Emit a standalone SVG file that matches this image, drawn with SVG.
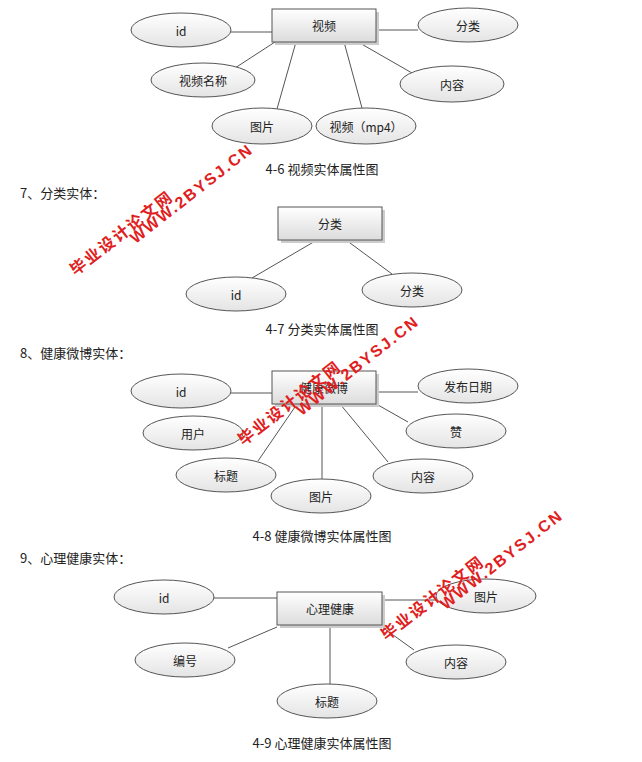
<svg xmlns="http://www.w3.org/2000/svg" width="642" height="762" viewBox="0 0 642 762">
<defs>
<linearGradient id="eg" x1="0" y1="0" x2="0" y2="1"><stop offset="0" stop-color="#ffffff"/><stop offset="1" stop-color="#e4e4e4"/></linearGradient>
<linearGradient id="rg" x1="0" y1="0" x2="0" y2="1"><stop offset="0" stop-color="#ffffff"/><stop offset="1" stop-color="#dcdcdc"/></linearGradient>
</defs>
<style>
ellipse{fill:url(#eg);stroke:#555;stroke-width:1}
rect{fill:url(#rg);stroke:#555;stroke-width:1}
.sh{fill:#ccc;stroke:none}
text{font-family:"Noto Sans CJK SC","Liberation Sans",sans-serif;font-size:12px;fill:#222;text-anchor:middle;dominant-baseline:central}
.t{text-anchor:start;font-size:13px}
.c{font-size:13px}
#connectors line{stroke:#555;stroke-width:1}
.wm{fill:#e02020;font-weight:bold;font-size:16px;text-anchor:start;font-family:"Liberation Sans","Noto Sans CJK SC",sans-serif;letter-spacing:2px}
</style>
<rect x="0" y="0" width="642" height="762" style="fill:#fff;stroke:none"/>
<g id="connectors">
<line x1="231" y1="32" x2="272" y2="32"/><line x1="376" y1="30" x2="418" y2="30"/>
<line x1="275" y1="42" x2="235" y2="68"/><line x1="296" y1="42" x2="277" y2="109"/>
<line x1="344" y1="42" x2="362" y2="108"/><line x1="358" y1="42" x2="412" y2="73"/>
<line x1="317" y1="240" x2="252" y2="278"/><line x1="346" y1="240" x2="392" y2="274"/>
<line x1="231" y1="393" x2="272" y2="393"/><line x1="376" y1="392" x2="418" y2="392"/>
<line x1="378" y1="405" x2="408" y2="422"/><line x1="297" y1="404" x2="258" y2="461"/>
<line x1="322" y1="404" x2="322" y2="479"/><line x1="340" y1="404" x2="388" y2="462"/>
<line x1="214" y1="598" x2="277" y2="598"/><line x1="382" y1="600" x2="436" y2="600"/>
<line x1="277" y1="627" x2="228" y2="648"/><line x1="382" y1="627" x2="414" y2="650"/>
<line x1="330" y1="625" x2="330" y2="684"/>
</g>
<g id="video"><rect x="275" y="12" width="104" height="33" class="sh"/><rect x="272" y="9" width="104" height="33"/><text x="324" y="25">视频</text></g>
<g id="v_id"><ellipse cx="181" cy="30" rx="50" ry="17"/><text x="181" y="30">id</text></g>
<g id="v_cat"><ellipse cx="468" cy="25" rx="50" ry="17"/><text x="468" y="25">分类</text></g>
<g id="v_name"><ellipse cx="203" cy="80" rx="52" ry="17"/><text x="203" y="80">视频名称</text></g>
<g id="v_content"><ellipse cx="452" cy="84" rx="52" ry="18"/><text x="452" y="84">内容</text></g>
<g id="v_pic"><ellipse cx="262" cy="126" rx="50" ry="18"/><text x="262" y="126">图片</text></g>
<g id="v_mp4"><ellipse cx="366" cy="126" rx="50" ry="18"/><text x="366" y="126">视频（mp4）</text></g>
<text class="c" x="322" y="168">4-6 视频实体属性图</text>
<text class="t" x="20" y="192">7、分类实体：</text>
<g id="cat"><rect x="281" y="210" width="104" height="33" class="sh"/><rect x="278" y="207" width="104" height="33"/><text x="330" y="223">分类</text></g>
<g id="c_id"><ellipse cx="236" cy="294" rx="50" ry="17"/><text x="236" y="294">id</text></g>
<g id="c_cat"><ellipse cx="412" cy="290" rx="50" ry="17"/><text x="412" y="290">分类</text></g>
<text class="c" x="322" y="328">4-7 分类实体属性图</text>
<text class="t" x="20" y="352">8、健康微博实体：</text>
<g id="weibo"><rect x="275" y="374" width="104" height="33" class="sh"/><rect x="272" y="371" width="104" height="33"/><text x="324" y="387">健康微博</text></g>
<g id="w_id"><ellipse cx="181" cy="391" rx="50" ry="17"/><text x="181" y="391">id</text></g>
<g id="w_date"><ellipse cx="468" cy="386" rx="50" ry="17"/><text x="468" y="386">发布日期</text></g>
<g id="w_user"><ellipse cx="193" cy="433" rx="50" ry="17"/><text x="193" y="433">用户</text></g>
<g id="w_like"><ellipse cx="456" cy="431" rx="50" ry="17"/><text x="456" y="431">赞</text></g>
<g id="w_title"><ellipse cx="226" cy="475" rx="50" ry="17"/><text x="226" y="475">标题</text></g>
<g id="w_pic"><ellipse cx="321" cy="496" rx="50" ry="17"/><text x="321" y="496">图片</text></g>
<g id="w_content"><ellipse cx="423" cy="476" rx="50" ry="17"/><text x="423" y="476">内容</text></g>
<text class="c" x="322" y="535">4-8 健康微博实体属性图</text>
<text class="t" x="20" y="557">9、心理健康实体：</text>
<g id="psy"><rect x="280" y="595" width="105" height="33" class="sh"/><rect x="277" y="592" width="105" height="33"/><text x="330" y="608">心理健康</text></g>
<g id="p_id"><ellipse cx="164" cy="597" rx="50" ry="17"/><text x="164" y="597">id</text></g>
<g id="p_pic"><ellipse cx="486" cy="596" rx="50" ry="17"/><text x="486" y="596">图片</text></g>
<g id="p_no"><ellipse cx="185" cy="660" rx="50" ry="17"/><text x="185" y="660">编号</text></g>
<g id="p_content"><ellipse cx="456" cy="662" rx="50" ry="17"/><text x="456" y="662">内容</text></g>
<g id="p_title"><ellipse cx="327" cy="701" rx="50" ry="17"/><text x="327" y="701">标题</text></g>
<text class="c" x="322" y="742">4-9 心理健康实体属性图</text>
<g id="watermarks">
<text class="wm" transform="translate(72,272) rotate(-38)">毕业设计论文网</text>
<text class="wm" transform="translate(132,240) rotate(-38)">WWW.2BYSJ.CN</text>
<text class="wm" transform="translate(240,442) rotate(-38)">毕业设计论文网</text>
<text class="wm" transform="translate(298,412) rotate(-38)">WWW.2BYSJ.CN</text>
<text class="wm" transform="translate(383,637) rotate(-38)">毕业设计论文网</text>
<text class="wm" transform="translate(442,606) rotate(-38)">WWW.2BYSJ.CN</text>
</g>
</svg>
